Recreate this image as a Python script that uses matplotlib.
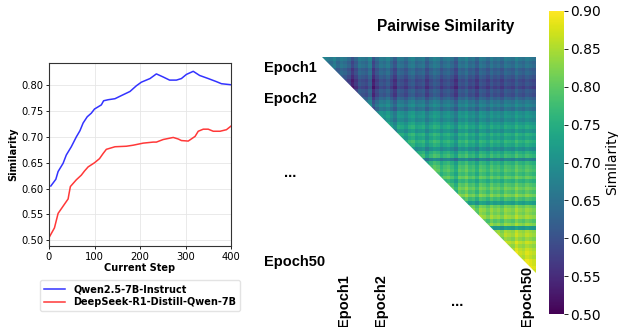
import numpy as np
import matplotlib
matplotlib.use("Agg")
import matplotlib.pyplot as plt
from matplotlib.patches import Polygon

# line chart: similarity vs current step
qwen_step = [4, 15, 20, 31, 38, 49, 60, 68, 75, 84, 93, 100, 115, 120, 130, 145, 159, 178,
             192, 203, 222, 236, 251, 265, 280, 291, 302, 317, 331, 350, 368, 379, 400]
qwen_sim = [0.605, 0.618, 0.633, 0.649, 0.665, 0.681, 0.700, 0.712, 0.727, 0.739, 0.746,
            0.754, 0.762, 0.770, 0.772, 0.774, 0.780, 0.788, 0.799, 0.806, 0.813, 0.822,
            0.816, 0.810, 0.810, 0.813, 0.821, 0.827, 0.819, 0.813, 0.807, 0.803, 0.801]
ds_step = [0, 12, 20, 31, 42, 44, 47, 60, 71, 78, 86, 100, 111, 119, 126, 145, 170, 185,
           207, 229, 236, 251, 273, 284, 291, 306, 321, 328, 339, 350, 361, 376, 390, 400]
ds_sim = [0.505, 0.524, 0.552, 0.566, 0.580, 0.590, 0.604, 0.617, 0.626, 0.634, 0.642,
          0.650, 0.658, 0.668, 0.676, 0.681, 0.682, 0.684, 0.688, 0.690, 0.690, 0.695,
          0.699, 0.696, 0.693, 0.692, 0.701, 0.711, 0.715, 0.715, 0.711, 0.711, 0.714, 0.721]

# heatmap: per-row level and per-column stripe offset
row_level = [0.66, 0.64, 0.65, 0.62, 0.63, 0.61, 0.59, 0.60, 0.58, 0.61,
             0.60, 0.63, 0.66, 0.68, 0.65, 0.70, 0.71, 0.69, 0.72, 0.74,
             0.71, 0.75, 0.73, 0.76, 0.74, 0.70, 0.75, 0.77, 0.68, 0.76,
             0.78, 0.79, 0.77, 0.80, 0.76, 0.79, 0.81, 0.79, 0.82, 0.78,
             0.73, 0.81, 0.83, 0.82, 0.84, 0.80, 0.83, 0.72, 0.84, 0.85,
             0.83, 0.86, 0.84, 0.86, 0.87, 0.86, 0.88, 0.88, 0.89, 0.88]
col_offset = [0.02, 0.01, 0.00, 0.02, -0.01, 0.01, 0.00, -0.02, -0.06, -0.03,
              0.01, 0.00, -0.01, 0.02, -0.06, -0.02, 0.01, 0.00, 0.02, -0.01,
              -0.04, 0.01, 0.00, -0.02, 0.01, 0.02, -0.01, 0.00, 0.01, -0.03,
              0.00, 0.02, 0.01, -0.02, 0.00, 0.01, -0.01, -0.04, 0.01, 0.00,
              0.02, -0.01, 0.00, -0.03, 0.01, 0.00, -0.02, 0.01, -0.01, 0.00,
              -0.02, 0.01, 0.00, -0.01, 0.02, 0.00, -0.01, 0.01, 0.00, -0.01]
cbar_ticks = [0.50, 0.55, 0.60, 0.65, 0.70, 0.75, 0.80, 0.85, 0.90]

W, H = 618, 327
fig = plt.figure(figsize=(W / 100, H / 100), dpi=100)


def box(x0, y0, x1, y1):
    # pixel box (top-left origin) -> figure fraction rect
    return [x0 / W, 1 - y1 / H, (x1 - x0) / W, (y1 - y0) / H]


# ---- left line chart
ax = fig.add_axes(box(49, 63, 231, 246))
ax.plot(qwen_step, qwen_sim, color=(0.2, 0.2, 1.0), lw=1.1, label="Qwen2.5-7B-Instruct")
ax.plot(ds_step, ds_sim, color=(1.0, 0.22, 0.22), lw=1.1, label="DeepSeek-R1-Distill-Qwen-7B")
ax.set_xlim(0, 400)
ax.set_xticks([0, 100, 200, 300, 400])
ax.set_yticks([0.50, 0.55, 0.60, 0.65, 0.70, 0.75, 0.80])
ax.tick_params(labelsize=7.2, length=2.5, width=0.6, pad=1.5)
ax.grid(True, color="#e6e6e6", lw=0.6)
ax.set_axisbelow(True)
for s in ax.spines.values():
    s.set_color("#333333")
    s.set_linewidth(0.8)
ax.set_xlabel("Current Step", fontsize=7, fontweight="bold", labelpad=1)
ax.set_ylabel("Similarity", fontsize=7, fontweight="bold", labelpad=2)
ax.legend(loc="upper center", bbox_to_anchor=(0.5, -0.16),
          prop={"weight": "bold", "size": 7}, frameon=True, handlelength=2.2,
          borderpad=0.4, labelspacing=0.3, edgecolor="#dddddd")

# ---- heatmap (upper triangle, lower part covered by a white triangle)
n = len(row_level)
mat = np.array(row_level)[:, None] + np.array(col_offset)[None, :]
mat = np.clip(mat, 0.5, 0.9)

hx = fig.add_axes(box(322, 57, 536, 273))
im = hx.imshow(mat, cmap="viridis", vmin=0.5, vmax=0.9, aspect="auto",
               interpolation="nearest")
hx.add_patch(Polygon([(0, 0), (0, 1), (1, 0)], closed=True, transform=hx.transAxes,
                     facecolor="white", edgecolor="none", zorder=3))
hx.axis("off")

cax = fig.add_axes(box(549, 11, 564, 314))
cb = fig.colorbar(im, cax=cax, ticks=cbar_ticks)
cb.outline.set_visible(False)
cb.ax.tick_params(labelsize=10, length=3, width=0.6, pad=1.5)
cb.ax.set_yticklabels(["%.2f" % t for t in cbar_ticks])
cb.set_label("Similarity", fontsize=10, labelpad=3)

# texts around heatmap
tf = dict(family="Liberation Sans", fontweight="bold")
fig.text(446 / W, 1 - 27 / H, "Pairwise Similarity", ha="center", va="center", fontsize=11.2, **tf)
for lab, y in [("Epoch1", 68), ("Epoch2", 99), ("Epoch50", 262)]:
    fig.text(264 / W, 1 - y / H, lab, ha="left", va="center", fontsize=10.5, **tf)
fig.text(290 / W, 1 - 173 / H, "...", ha="center", va="center", fontsize=10.5, **tf)
for lab, x, y in [("Epoch1", 344, 301), ("Epoch2", 381, 301), ("Epoch50", 527, 296)]:
    fig.text(x / W, 1 - y / H, lab, ha="center", va="center", rotation=90, fontsize=10.5, **tf)
fig.text(457 / W, 1 - 302 / H, "...", ha="center", va="center", fontsize=10.5, **tf)

fig.savefig("out.png", dpi=100)
